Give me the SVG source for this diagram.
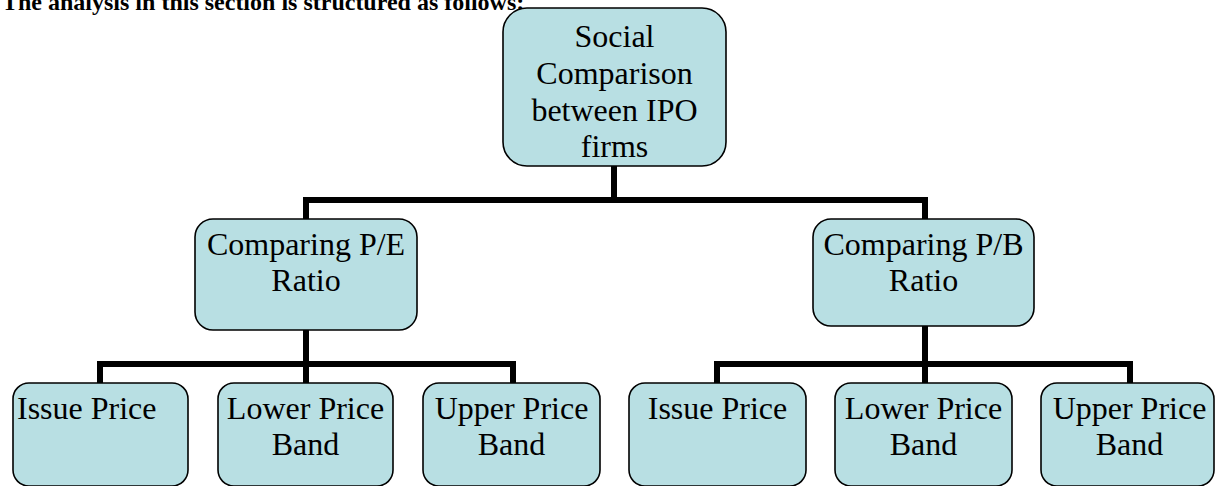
<svg xmlns="http://www.w3.org/2000/svg" width="1215" height="486" viewBox="0 0 1215 486">
<style>
.box{fill:#B8DFE3;stroke:#000;stroke-width:1.6}
.t{font-family:"Liberation Serif","Times New Roman",serif;font-size:32px;fill:#000}
.c{text-anchor:middle}
.conn{fill:none;stroke:#000;stroke-width:6;stroke-linejoin:miter;stroke-linecap:butt}
.hdr{font-family:"Liberation Serif","Times New Roman",serif;font-size:24px;font-weight:bold;fill:#000}
</style>
<rect width="1215" height="486" fill="#fff"/>
<text class="hdr" x="2" y="10">The analysis in this section is structured as follows:</text>
<g id="connectors">
<path class="conn" d="M614,166 V200"/>
<path class="conn" d="M306,219 V200 H925 V219"/>
<path class="conn" d="M306,330 V383"/>
<path class="conn" d="M100,383 V364 H513 V383"/>
<path class="conn" d="M925,326 V383"/>
<path class="conn" d="M717,383 V364 H1130 V383"/>
</g>
<g id="root">
<rect class="box" x="503" y="8" width="223" height="158" rx="24"/>
<text class="t c" x="614.5" y="47">Social</text>
<text class="t c" x="614.5" y="84">Comparison</text>
<text class="t c" x="614.5" y="121">between IPO</text>
<text class="t c" x="614.5" y="157">firms</text>
</g>
<g id="pe">
<rect class="box" x="195" y="219" width="222" height="111" rx="18"/>
<text class="t c" x="306" y="255">Comparing P/E</text>
<text class="t c" x="306" y="291">Ratio</text>
</g>
<g id="pb">
<rect class="box" x="813" y="219" width="221" height="107" rx="18"/>
<text class="t c" x="923.5" y="255">Comparing P/B</text>
<text class="t c" x="923.5" y="291">Ratio</text>
</g>
<g id="pe-issue">
<rect class="box" x="13" y="383" width="175" height="103" rx="16"/>
<text class="t" x="17" y="419">Issue Price</text>
</g>
<g id="pe-lower">
<rect class="box" x="218" y="383" width="175" height="103" rx="16"/>
<text class="t c" x="305.5" y="419">Lower Price</text>
<text class="t c" x="305.5" y="455">Band</text>
</g>
<g id="pe-upper">
<rect class="box" x="423" y="383" width="177" height="103" rx="16"/>
<text class="t c" x="511.5" y="419">Upper Price</text>
<text class="t c" x="511.5" y="455">Band</text>
</g>
<g id="pb-issue">
<rect class="box" x="629" y="383" width="177" height="103" rx="16"/>
<text class="t c" x="717.5" y="419">Issue Price</text>
</g>
<g id="pb-lower">
<rect class="box" x="835" y="383" width="177" height="103" rx="16"/>
<text class="t c" x="923.5" y="419">Lower Price</text>
<text class="t c" x="923.5" y="455">Band</text>
</g>
<g id="pb-upper">
<rect class="box" x="1041" y="383" width="173" height="103" rx="16"/>
<text class="t c" x="1129.5" y="419">Upper Price</text>
<text class="t c" x="1129.5" y="455">Band</text>
</g>
</svg>
